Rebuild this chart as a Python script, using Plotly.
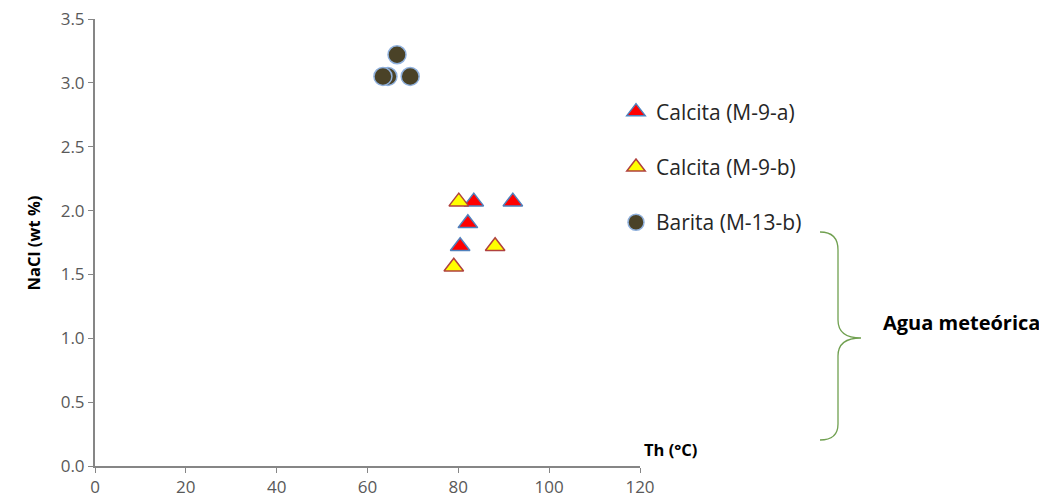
import plotly.graph_objects as go

# Th (°C) vs NaCl (wt %)
calcita_a_th = [83.4, 92.0, 82.1, 80.4]
calcita_a_nacl = [2.07, 2.07, 1.90, 1.72]

calcita_b_th = [80.1, 88.1, 79.0]
calcita_b_nacl = [2.07, 1.72, 1.56]

barita_th = [64.5, 63.4, 66.5, 69.4]
barita_nacl = [3.05, 3.05, 3.22, 3.05]

x_ticks = [0, 20, 40, 60, 80, 100, 120]
y_ticks = [0.0, 0.5, 1.0, 1.5, 2.0, 2.5, 3.0, 3.5]

W, H = 1047, 504
# plot area in page pixels; the page body adds an 8px offset
L, R, T, B = 95, 640, 19, 466
OFF = 8


def px(x):
    return (x - L) / (R - L)


def py(y):
    return (B - y) / (B - T)


fig = go.Figure()
fig.add_trace(go.Scatter(
    x=calcita_a_th, y=calcita_a_nacl, mode="markers", name="Calcita (M-9-a)",
    legendgroup="a",
    marker=dict(symbol="triangle-up", size=17, color="#ff0000",
                line=dict(color="#4f81bd", width=1.5)),
))
fig.add_trace(go.Scatter(
    x=calcita_b_th, y=calcita_b_nacl, mode="markers", name="Calcita (M-9-b)",
    legendgroup="b",
    marker=dict(symbol="triangle-up", size=17, color="#ffff00",
                line=dict(color="#b0413e", width=1.5)),
))
fig.add_trace(go.Scatter(
    x=barita_th, y=barita_nacl, mode="markers", name="Barita (M-13-b)",
    legendgroup="c",
    marker=dict(symbol="circle", size=18, color="#4a4227",
                line=dict(color="#8fb0dc", width=1.5)),
))

axis_font = dict(family="Open Sans", size=17, color="#595959")
fig.update_xaxes(range=[0, 120], tickvals=x_ticks, ticks="outside", ticklen=5,
                 tickcolor="#868686", showline=True, linecolor="#868686",
                 linewidth=2, showgrid=False, zeroline=False, tickfont=axis_font,
                 automargin=False, ticklabeloverflow="allow")
fig.update_yaxes(range=[0, 3.5], tickvals=y_ticks, tickformat=".1f",
                 ticks="outside", ticklen=5, tickcolor="#868686", showline=True,
                 linecolor="#868686", linewidth=2, showgrid=False,
                 zeroline=False, tickfont=axis_font, automargin=False,
                 ticklabeloverflow="allow")

# curly brace
bx0, bx1, bx2 = px(820), px(838), px(861)
by0, by1, bym, by3, by4 = py(232), py(250), py(338), py(424), py(440)
brace = (f"M {bx0},{by0} Q {bx1},{by0} {bx1},{by1} "
         f"L {bx1},{py(320)} Q {bx1},{bym} {bx2},{bym} "
         f"Q {bx1},{bym} {bx1},{py(356)} L {bx1},{by3} "
         f"Q {bx1},{by4} {bx0},{by4}")
fig.add_shape(type="path", path=brace, xref="paper", yref="paper",
              line=dict(color="#70a050", width=1.3))

fig.add_annotation(x=px(881), y=py(338), xref="paper", yref="paper",
                   text="<b>Agua meteórica</b>", showarrow=False,
                   xanchor="left", font=dict(family="Open Sans", size=20, color="black"))
fig.add_annotation(x=px(642), y=py(463), xref="paper", yref="paper",
                   text="<b>Th (°C)</b>", showarrow=False, xanchor="left",
                   font=dict(family="Open Sans", size=16.5, color="black"))
fig.add_annotation(x=px(19), y=py(243), xref="paper", yref="paper",
                   text="<b>NaCl (wt %)</b>", showarrow=False, textangle=-90,
                   font=dict(family="Open Sans", size=16.5, color="black"))

fig.update_layout(
    width=W, height=H,
    margin=dict(l=L - OFF, r=W - (R - OFF), t=T - OFF, b=H - (B - OFF)),
    plot_bgcolor="white", paper_bgcolor="white",
    legend=dict(x=px(616), y=py(91.5), xanchor="left", yanchor="top",
                traceorder="grouped", tracegroupgap=25,
                font=dict(family="Open Sans", size=21, color="#262626"),
                bgcolor="rgba(0,0,0,0)"),
    showlegend=True,
)

fig.write_html("out.html")
